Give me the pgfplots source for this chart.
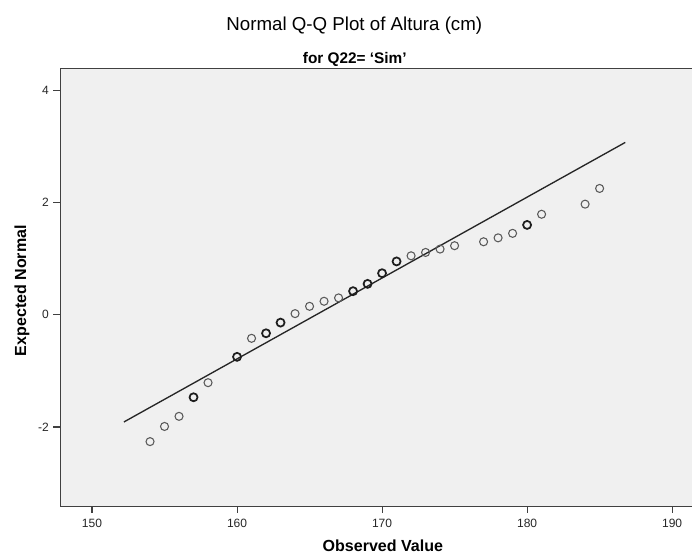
\documentclass[border=0pt]{standalone}
\usepackage{pgfplots}
\pgfplotsset{compat=1.18}
\usepackage{fontspec}
\setmainfont{Liberation Sans}
\definecolor{plotbg}{HTML}{F0F0F0}
\definecolor{ptgray}{HTML}{5A5A5A}
\definecolor{ptdark}{HTML}{1E1E1E}
\begin{document}
\begin{tikzpicture}
\begin{axis}[
    scale only axis,
    width=474pt, height=327.75pt,
    xmin=147.8, xmax=191.48,
    ymin=-3.41, ymax=4.393,
    axis background/.style={fill=plotbg},
    axis line style={draw=black!75, line width=0.9pt},
    xtick={150,160,170,180,190},
    xticklabels={150,160,170,180,190},
    ytick={-2,0,2,4},
    yticklabels={-2,0,2,4},
    tick align=outside,
    xtick pos=bottom, ytick pos=left,
    major tick length=5pt,
    tick style={draw=black!75, line width=0.8pt},
    tick label style={font=\fontsize{9}{11}\selectfont, text=black!85},
    xticklabel style={yshift=-1pt},
    clip=false,
]
\addplot[draw=black!85, line width=1pt] coordinates {(152.2,-1.91) (186.77,3.07)};
\addplot[only marks, mark=o, mark size=3pt, mark options={draw=ptgray, line width=0.8pt}] coordinates {
(154,-2.26) (155,-1.99) (156,-1.81) (158,-1.21) (161,-0.42) (164,0.02)
(165,0.15) (166,0.24) (167,0.30) (172,1.05) (173,1.11) (174,1.17)
(175,1.23) (177,1.30) (178,1.37) (179,1.45) (181,1.79) (184,1.97) (185,2.25)
};
\addplot[only marks, mark=o, mark size=3pt, mark options={draw=ptdark, line width=1.3pt}] coordinates {
(157,-1.47) (160,-0.75) (162,-0.33) (163,-0.14) (168,0.42) (169,0.55)
(170,0.74) (171,0.95) (180,1.60)
};
\node[anchor=base, font=\fontsize{14}{16}\selectfont] at (rel axis cs:0.4644,1.0854) {Normal Q-Q Plot of Altura (cm)};
\node[anchor=base, font=\bfseries\fontsize{11.5}{13}\selectfont] at (rel axis cs:0.4652,1.0108) {for Q22= ‘Sim’};
\node[font=\bfseries\fontsize{12}{14}\selectfont] at (rel axis cs:0.5095,-0.0915) {Observed Value};
\node[font=\bfseries\fontsize{12}{14}\selectfont, rotate=90] at (rel axis cs:-0.0603,0.492) {Expected Normal};
\coordinate (bbsw) at (rel axis cs:-0.0949,-0.1167);
\coordinate (bbne) at (rel axis cs:0.9975,1.1556);
\end{axis}
\pgfresetboundingbox
\path[use as bounding box] (bbsw) rectangle (bbne);
\end{tikzpicture}
\end{document}
